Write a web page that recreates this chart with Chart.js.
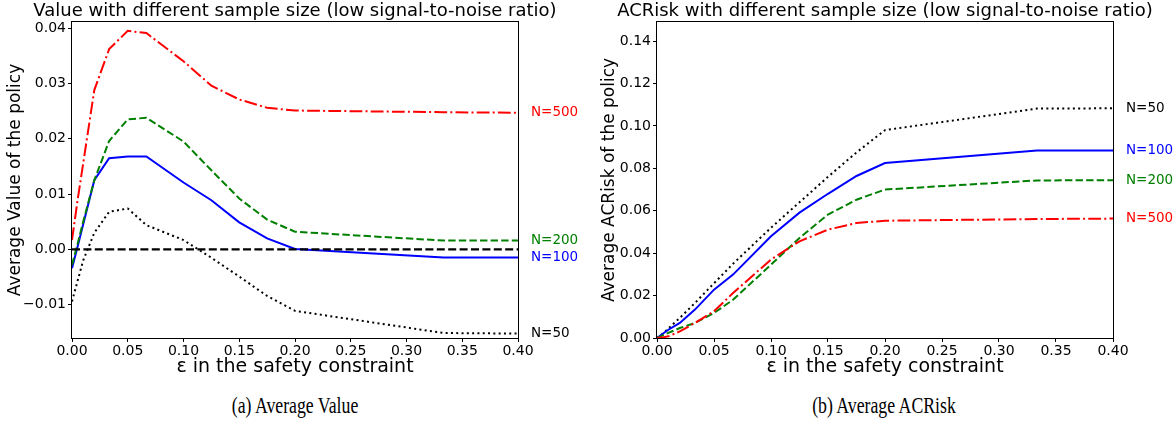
<!DOCTYPE html>
<html>
<head>
<meta charset="UTF-8">
<title>Value / ACRisk with different sample size</title>
<script src="https://cdn.jsdelivr.net/npm/chart.js"></script>
<style>
  body { margin: 0; background: #fff; width: 1175px; height: 436px; position: relative; overflow: hidden; }
  .panel { position: absolute; top: 0; }
  .caption {
    position: absolute; top: 392px; width: 400px; text-align: center;
    font-family: "Liberation Serif", "Times New Roman", serif; font-size: 24px; color: #000;
    transform: scaleX(0.74);
  }
</style>
</head>
<body>
<div class="panel" style="left:0"><canvas id="valueChart" width="590" height="380"></canvas></div>
<div class="panel" style="left:590px"><canvas id="riskChart" width="585" height="380"></canvas></div>
<div class="caption" style="left:95px">(a) Average Value</div>
<div class="caption" style="left:684px">(b) Average ACRisk</div>

<script>
// Giá trị ε (trục x, dùng chung cho cả hai biểu đồ)
const eps = [0, 0.005, 0.01, 0.02, 0.0333, 0.05, 0.0667, 0.1, 0.125, 0.15, 0.175, 0.2, 0.3333, 0.4];
const sampleLabels = ['N=50', 'N=100', 'N=200', 'N=500'];

// (a) Average Value
const value50  = [-0.0094, -0.0057, -0.0020, 0.0030, 0.0068, 0.0074, 0.0044, 0.0017, -0.0015, -0.0049, -0.0084, -0.0111, -0.0151, -0.0152];
const value100 = [-0.0034, 0.0005, 0.0045, 0.0125, 0.0165, 0.0168, 0.0168, 0.0121, 0.0089, 0.0049, 0.0020, 0.0001, -0.00145, -0.00145];
const value200 = [-0.0028, 0.0010, 0.0050, 0.0125, 0.0196, 0.0235, 0.0238, 0.0195, 0.0143, 0.0092, 0.0054, 0.0032, 0.0016, 0.0016];
const value500 = [0.0017, 0.0089, 0.0155, 0.0288, 0.0362, 0.0395, 0.0391, 0.0340, 0.0296, 0.0271, 0.0256, 0.0251, 0.0248, 0.0247];
const zeroLineX = [0, 0.4];
const zeroLineY = [0, 0];

// (b) Average ACRisk
const risk50  = [0, 0.0020, 0.0045, 0.0095, 0.0165, 0.0258, 0.0350, 0.0520, 0.0640, 0.0760, 0.0875, 0.0980, 0.1082, 0.1083];
const risk100 = [0, 0.0020, 0.0039, 0.0071, 0.0134, 0.0228, 0.0299, 0.0480, 0.0591, 0.0680, 0.0764, 0.0825, 0.0884, 0.0884];
const risk200 = [0, 0.0012, 0.0024, 0.0047, 0.0071, 0.0118, 0.0180, 0.0346, 0.0472, 0.0582, 0.0652, 0.0700, 0.0743, 0.0744];
const risk500 = [0, 0.0003, 0.0008, 0.0031, 0.0071, 0.0126, 0.0212, 0.0370, 0.0456, 0.0511, 0.0542, 0.0553, 0.0561, 0.0563];

// Nhãn vạch chia
const xTicks = [0, 0.05, 0.1, 0.15, 0.2, 0.25, 0.3, 0.35, 0.4];
const valueTicks = [-0.01, 0, 0.01, 0.02, 0.03, 0.04];
const riskTicks = [0, 0.02, 0.04, 0.06, 0.08, 0.1, 0.12, 0.14];

const FONT = '"DejaVu Sans", "Noto Sans", sans-serif';
const colors = ['#000000', '#0000ff', '#008000', '#ff0000'];
const dashes = [[2, 3.3], [], [7.4, 3.2], [12.8, 3.2, 2, 3.2]];

function makeDatasets(seriesList) {
  return seriesList.map((vals, i) => ({
    label: sampleLabels[i],
    endLabel: sampleLabels[i],
    data: eps.map((e, j) => ({ x: e, y: vals[j] })),
    borderColor: colors[i],
    borderDash: dashes[i],
    borderWidth: 2,
    pointRadius: 0,
    tension: 0,
    fill: false,
    order: 4 - i
  }));
}

// Khung trục kiểu matplotlib + tiêu đề + nhãn cuối đường
const framePlugin = {
  id: 'frame',
  afterDatasetsDraw(chart, args, opts) {
    const { ctx, chartArea: a, scales } = chart;
    ctx.save();
    ctx.strokeStyle = '#000';
    ctx.lineWidth = 1;
    ctx.strokeRect(Math.round(a.left) - 0.5, Math.round(a.top) - 0.5,
                   Math.round(a.right - a.left) + 1, Math.round(a.bottom - a.top) + 1);

    ctx.fillStyle = '#000';
    ctx.font = '18px ' + FONT;
    ctx.textAlign = 'center';
    ctx.textBaseline = 'middle';
    ctx.fillText(opts.title, (a.left + a.right) / 2, 11.5);

    ctx.font = '13.5px ' + FONT;
    ctx.textAlign = 'left';
    chart.data.datasets.forEach(ds => {
      if (!ds.endLabel) return;
      const last = ds.data[ds.data.length - 1];
      ctx.fillStyle = ds.borderColor;
      ctx.fillText(ds.endLabel, a.right + 13, scales.y.getPixelForValue(last.y));
    });
    ctx.restore();
  }
};

function makeOptions(title, yTitle, yMin, yMax, yTicks, yWidth, yTitlePad, padRight) {
  return {
    responsive: false,
    animation: false,
    layout: { padding: { top: 22, right: padRight, left: 0, bottom: 0 } },
    plugins: {
      legend: { display: false },
      tooltip: { enabled: false },
      frame: { title: title }
    },
    scales: {
      x: {
        type: 'linear', min: 0, max: 0.4,
        afterBuildTicks: s => { s.ticks = xTicks.map(v => ({ value: v })); },
        afterFit: s => { s.height = 42; },
        border: { display: false },
        grid: { display: true, drawOnChartArea: false, drawTicks: true, tickLength: 4, color: '#000' },
        ticks: { color: '#000', padding: 1, maxRotation: 0, font: { family: FONT, size: 14 },
                 callback: v => v.toFixed(2) },
        title: { display: true, text: 'ε in the safety constraint', color: '#000',
                 font: { family: FONT, size: 19 }, padding: { top: 0, bottom: 1.5 } }
      },
      y: {
        type: 'linear', min: yMin, max: yMax,
        afterBuildTicks: s => { s.ticks = yTicks.map(v => ({ value: v })); },
        afterFit: s => { s.width = yWidth; },
        border: { display: false },
        grid: { display: true, drawOnChartArea: false, drawTicks: true, tickLength: 4, color: '#000' },
        ticks: { color: '#000', padding: 2, font: { family: FONT, size: 14 },
                 callback: v => v.toFixed(2).replace('-', '\u2212') },
        title: { display: true, text: yTitle, color: '#000',
                 font: { family: FONT, size: 17 }, padding: { top: yTitlePad, bottom: 0 } }
      }
    }
  };
}

// Biểu đồ (a)
const valueSets = makeDatasets([value50, value100, value200, value500]);
valueSets.push({
  label: 'zero',
  data: zeroLineX.map((x, i) => ({ x: x, y: zeroLineY[i] })),
  borderColor: '#000', borderDash: [8, 3.4], borderWidth: 2.2,
  pointRadius: 0, fill: false, order: 0
});
new Chart(document.getElementById('valueChart'), {
  type: 'line',
  data: { datasets: valueSets },
  options: makeOptions('Value with different sample size (low signal-to-noise ratio)',
                       'Average Value of the policy', -0.016, 0.0411, valueTicks, 72, 5, 72),
  plugins: [framePlugin]
});

// Biểu đồ (b)
new Chart(document.getElementById('riskChart'), {
  type: 'line',
  data: { datasets: makeDatasets([risk50, risk100, risk200, risk500]) },
  options: makeOptions('ACRisk with different sample size (low signal-to-noise ratio)',
                       'Average ACRisk of the policy', 0, 0.149, riskTicks, 67, 9, 62),
  plugins: [framePlugin]
});
</script>
</body>
</html>
